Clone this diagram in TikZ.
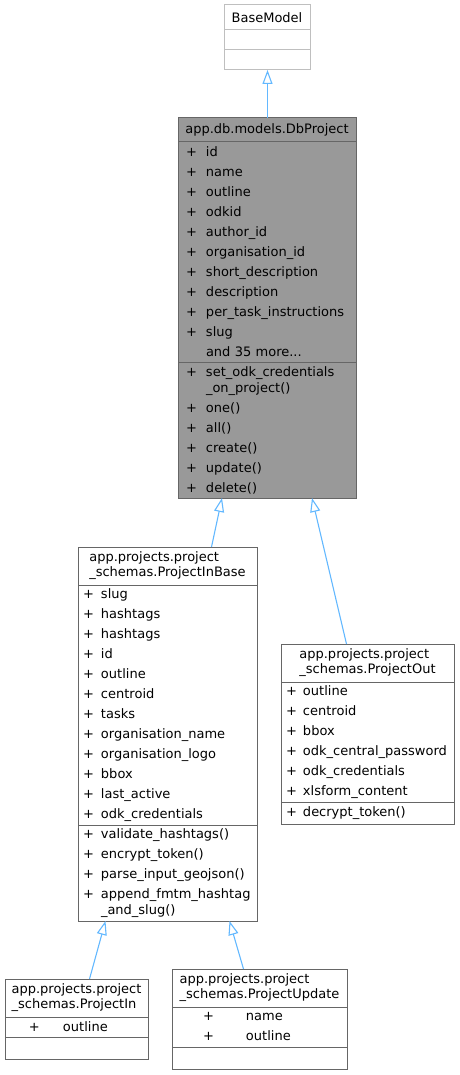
\documentclass[tikz,border=0pt]{standalone}
\usepackage{fontspec}
\setmainfont{DejaVu Sans}
\usepackage{tikz}
\usetikzlibrary{arrows.meta}
\usetikzlibrary{positioning}
\definecolor{EdgeBlue}{RGB}{99,184,255}
\definecolor{BoxGray}{RGB}{102,102,102}
\definecolor{FillGray}{RGB}{153,153,153}
\definecolor{LightGray}{RGB}{191,191,191}
\newcommand{\umlpub}[2][19pt]{\makebox[#1][l]{+}#2}
\newcommand{\umlcont}[2][19pt]{\makebox[#1][l]{}#2}

\begin{document}
\begin{tikzpicture}[x=1pt, y=-1pt,
 ctitle/.style = {draw=BoxGray, line width=1pt, rectangle, outer sep=0pt, inner xsep=4pt, inner ysep=0pt,
                  align=left, font=\fontsize{13}{15}\selectfont},
 cmembers/.style = {draw=BoxGray, line width=1pt, rectangle, outer sep=0pt, inner xsep=4pt, inner ysep=0pt,
                    align=left, font=\fontsize{13}{20}\selectfont},
 inherit/.style = {draw=EdgeBlue, line width=1.1pt, -{Triangle[open, length=14pt, width=10pt]}},
                        ]
    \useasboundingbox (0,0) rectangle (459,1075);

    % base class
    \node [ctitle, draw=LightGray, minimum width=86pt, minimum height=25pt, anchor=north west] (baseTitle) at (224,5) {BaseModel};
    \node [cmembers, draw=LightGray, text width=78pt, minimum height=20pt, below=0pt of baseTitle] (baseAttr) {};
    \node [cmembers, draw=LightGray, text width=78pt, minimum height=20pt, below=0pt of baseAttr] (baseOps) {};

    % db model
    \node [ctitle, fill=FillGray, minimum width=178pt, minimum height=24pt, anchor=north west] (dbTitle) at (178,118) {app.db.models.DbProject};
    \node [cmembers, fill=FillGray, inner xsep=8pt, text width=162pt, minimum height=220pt, below=0pt of dbTitle] (dbAttr)
      {\umlpub[20pt]{id}\\ \umlpub[20pt]{name}\\ \umlpub[20pt]{outline}\\ \umlpub[20pt]{odkid}\\
       \umlpub[20pt]{author\_id}\\ \umlpub[20pt]{organisation\_id}\\ \umlpub[20pt]{short\_description}\\
       \umlpub[20pt]{description}\\ \umlpub[20pt]{per\_task\_instructions}\\ \umlpub[20pt]{slug}\\
       \umlcont[20pt]{and 35 more...}};
    \node [cmembers, fill=FillGray, inner xsep=8pt, text width=162pt, minimum height=136pt, below=0pt of dbAttr] (dbOps)
      {\umlpub[20pt]{set\_odk\_credentials}\\[-4pt] \umlcont[20pt]{\_on\_project()}\\ \umlpub[20pt]{one()}\\
       \umlpub[20pt]{all()}\\ \umlpub[20pt]{create()}\\ \umlpub[20pt]{update()}\\ \umlpub[20pt]{delete()}};

    % schema base
    \node [ctitle, minimum width=179pt, minimum height=38pt, anchor=north west] (pibTitle) at (78,547) {app.projects.project\\\_schemas.ProjectInBase};
    \node [cmembers, inner xsep=5pt, text width=169pt, minimum height=240pt, below=0pt of pibTitle] (pibAttr)
      {\umlpub[18pt]{slug}\\ \umlpub[18pt]{hashtags}\\ \umlpub[18pt]{hashtags}\\ \umlpub[18pt]{id}\\
       \umlpub[18pt]{outline}\\ \umlpub[18pt]{centroid}\\ \umlpub[18pt]{tasks}\\ \umlpub[18pt]{organisation\_name}\\
       \umlpub[18pt]{organisation\_logo}\\ \umlpub[18pt]{bbox}\\ \umlpub[18pt]{last\_active}\\ \umlpub[18pt]{odk\_credentials}};
    \node [cmembers, inner xsep=5pt, text width=169pt, minimum height=96pt, below=0pt of pibAttr] (pibOps)
      {\umlpub[18pt]{validate\_hashtags()}\\ \umlpub[18pt]{encrypt\_token()}\\ \umlpub[18pt]{parse\_input\_geojson()}\\
       \umlpub[18pt]{append\_fmtm\_hashtag}\\[-4pt] \umlcont[18pt]{\_and\_slug()}};

    % schema out
    \node [ctitle, minimum width=173pt, minimum height=38pt, anchor=north west] (outTitle) at (281,644) {app.projects.project\\\_schemas.ProjectOut};
    \node [cmembers, inner xsep=5pt, text width=163pt, minimum height=120pt, below=0pt of outTitle] (outAttr)
      {\umlpub[17pt]{outline}\\ \umlpub[17pt]{centroid}\\ \umlpub[17pt]{bbox}\\ \umlpub[17pt]{odk\_central\_password}\\
       \umlpub[17pt]{odk\_credentials}\\ \umlpub[17pt]{xlsform\_content}};
    \node [cmembers, inner xsep=5pt, text width=163pt, minimum height=22pt, below=0pt of outAttr] (outOps)
      {\umlpub[17pt]{decrypt\_token()}};

    % schema in
    \node [ctitle, minimum width=143pt, minimum height=38pt, anchor=north west] (inTitle) at (5,979) {app.projects.project\\\_schemas.ProjectIn};
    \node [cmembers, text width=135pt, minimum height=20pt, below=0pt of inTitle] (inAttr)
      {\hspace*{20pt}\umlpub[34pt]{outline}};
    \node [cmembers, text width=135pt, minimum height=22pt, below=0pt of inAttr] (inOps) {};

    % schema update
    \node [ctitle, minimum width=175pt, minimum height=38pt, anchor=north west] (updTitle) at (172,969) {app.projects.project\\\_schemas.ProjectUpdate};
    \node [cmembers, text width=167pt, minimum height=40pt, below=0pt of updTitle] (updAttr)
      {\hspace*{27pt}\umlpub[43pt]{name}\\ \hspace*{27pt}\umlpub[43pt]{outline}};
    \node [cmembers, text width=167pt, minimum height=22pt, below=0pt of updAttr] (updOps) {};

    \draw [inherit] ([xshift=0.5pt]dbTitle.north) -- ([xshift=0.5pt]baseOps.south);
    \draw [inherit] ([xshift=44pt]pibTitle.north) -- ([xshift=-45pt]dbOps.south);
    \draw [inherit] ([xshift=-21pt]outTitle.north) -- ([xshift=45pt]dbOps.south);
    \draw [inherit] ([xshift=13pt]inTitle.north) -- ([xshift=-62pt]pibOps.south);
    \draw [inherit] ([xshift=-16pt]updTitle.north) -- ([xshift=62pt]pibOps.south);

\end{tikzpicture}
\end{document}
